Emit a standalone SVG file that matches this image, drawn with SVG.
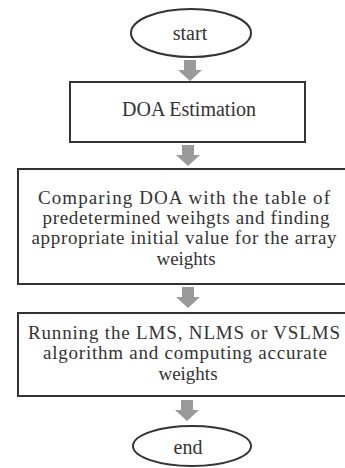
<svg xmlns="http://www.w3.org/2000/svg" width="345" height="468" viewBox="0 0 345 468">
<style>
.shape{fill:#fff;stroke:#333;stroke-width:2}
text{font-family:'Liberation Serif','Times New Roman',Times,serif;fill:#333;text-anchor:middle}
.t{font-size:20px}
.s{font-size:19px}
.arr{fill:#9a9a9a}
</style>
<defs>
<path id="ar" d="M-6,0 H6 V10 H12 L0,21 L-12,10 H-6 Z"/>
</defs>
<rect width="345" height="468" fill="#fff"/>
<g id="connectors">
<use href="#ar" class="arr" x="190" y="60"/>
<use href="#ar" class="arr" x="188" y="145"/>
<use href="#ar" class="arr" x="188" y="287"/>
<use href="#ar" class="arr" x="187" y="400"/>
</g>
<g id="start">
<ellipse class="shape" cx="191" cy="33" rx="60" ry="24"/>
<text class="t" x="190" y="40">start</text>
</g>
<g id="doa">
<rect class="shape" x="70" y="82" width="235" height="60"/>
<text class="t" x="189" y="116">DOA Estimation</text>
</g>
<g id="compare">
<rect class="shape" x="18" y="169" width="340" height="115"/>
<text class="s" x="184" y="204" textLength="292" lengthAdjust="spacing">Comparing  DOA with the table of</text>
<text class="s" x="186" y="224" textLength="287" lengthAdjust="spacing">predetermined weihgts and finding</text>
<text class="s" x="184" y="244" textLength="305" lengthAdjust="spacing">appropriate initial value for the array</text>
<text class="s" x="186" y="265">weights</text>
</g>
<g id="running">
<rect class="shape" x="18" y="313" width="340" height="83"/>
<text class="s" x="184" y="339" textLength="312" lengthAdjust="spacing">Running the LMS, NLMS or VSLMS</text>
<text class="s" x="185" y="359" textLength="284" lengthAdjust="spacing">algorithm and computing accurate</text>
<text class="s" x="188" y="380">weights</text>
</g>
<g id="end">
<ellipse class="shape" cx="192" cy="446" rx="59" ry="20"/>
<text class="t" x="188" y="454">end</text>
</g>
</svg>
